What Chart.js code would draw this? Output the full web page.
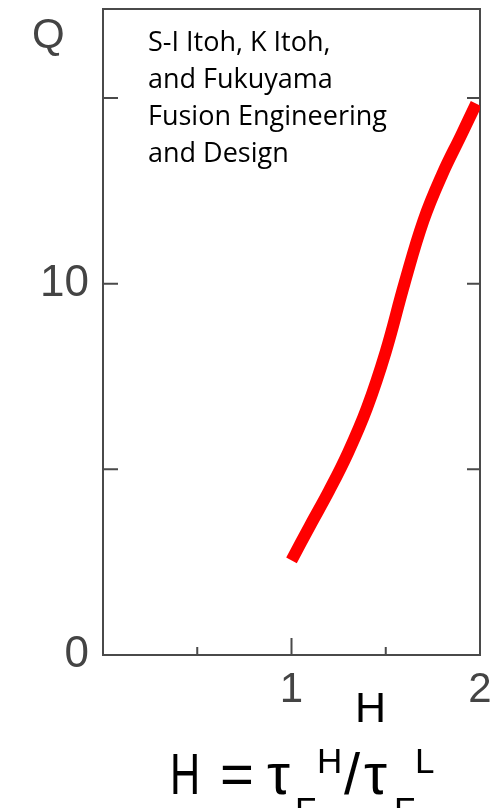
<!DOCTYPE html>
<html><head><meta charset="utf-8">
<script src="https://cdn.jsdelivr.net/npm/chart.js@4.4.0/dist/chart.umd.min.js"></script>
<style>
html,body{margin:0;padding:0;background:#fff;width:499px;height:808px;overflow:hidden;}
#wrap{position:relative;width:499px;height:808px;overflow:hidden;}
canvas{position:absolute;left:0;top:0;}
.ov{position:absolute;white-space:nowrap;line-height:1;}
.f{position:absolute;white-space:nowrap;line-height:1;font-family:'Liberation Sans';color:#000;}
.big{font-size:58px;top:745px;}
.sm{font-size:35px;}
</style></head><body>
<div id="wrap">
<canvas id="c" width="499" height="808"></canvas>
<div class="ov" id="qlab" style="left:32px;top:13px;font-family:'Liberation Sans';font-size:42px;color:#444;">Q</div>
<div class="ov" id="note" style="left:148px;top:22px;font-family:'Open Sans';font-size:27px;line-height:37px;color:#000;">S-I Itoh, K Itoh,<br>and Fukuyama<br>Fusion Engineering<br>and Design</div>
<div class="ov" id="hlab" style="left:355px;top:686px;font-family:'Liberation Sans';font-size:43px;color:#000;">H</div>
<div id="formula">
<span class="f big" style="left:170px;transform:scaleX(0.72);transform-origin:0 0;">H</span>
<span class="f big" style="left:220px;">=</span>
<span class="f big" style="left:267px;">τ</span>
<span class="f sm" style="left:295px;top:792px;">F</span>
<span class="f sm" style="left:317px;top:743px;">H</span>
<span class="f big" style="left:344px;">/</span>
<span class="f big" style="left:364px;">τ</span>
<span class="f sm" style="left:394px;top:792px;">F</span>
<span class="f sm" style="left:415px;top:743px;">L</span>
</div>
</div>
<script>
// Data
const hValues = [1.0, 1.1, 1.2, 1.3, 1.4, 1.5, 1.6, 1.7, 1.8, 1.9, 1.98];
const qValues = [2.55, 3.5, 4.43, 5.45, 6.65, 8.17, 10.02, 11.7, 12.95, 14.0, 14.85];
// Tick labels shown
const xTickLabels = ['1', '2'];
const yTickLabels = ['0', '10'];
// Tick marks
const yTickMarks = [5, 10, 15];
const xMajorMarks = [1];
const xMinorMarks = [0.5, 1.5];

const axisColor = '#4a4a4a';

const framePlugin = {
  id: 'frame',
  beforeDatasetsDraw(chart) {
    const {ctx, chartArea: a, scales: {x, y}} = chart;
    ctx.save();
    ctx.strokeStyle = axisColor;
    ctx.lineWidth = 2;
    ctx.strokeRect(a.left, a.top, a.right - a.left, a.bottom - a.top);
    ctx.beginPath();
    yTickMarks.forEach(v => {
      const py = y.getPixelForValue(v);
      ctx.moveTo(a.left, py); ctx.lineTo(a.left + 15, py);
      ctx.moveTo(a.right, py); ctx.lineTo(a.right - 13, py);
    });
    xMajorMarks.forEach(v => {
      const px = x.getPixelForValue(v);
      ctx.moveTo(px, a.bottom); ctx.lineTo(px, a.bottom - 17);
    });
    xMinorMarks.forEach(v => {
      const px = x.getPixelForValue(v);
      ctx.moveTo(px, a.bottom); ctx.lineTo(px, a.bottom - 8);
    });
    ctx.stroke();
    ctx.restore();
  }
};

new Chart(document.getElementById('c'), {
  type: 'line',
  data: {
    datasets: [{
      data: hValues.map((h, i) => ({x: h, y: qValues[i]})),
      borderColor: '#ff0000',
      borderWidth: 12,
      pointRadius: 0,
      tension: 0.4,
      fill: false
    }]
  },
  options: {
    responsive: false,
    animation: false,
    layout: {padding: {left: 0, top: 9, right: 19, bottom: 0}},
    plugins: {legend: {display: false}, tooltip: {enabled: false}},
    scales: {
      x: {
        type: 'linear', min: 0, max: 2,
        grid: {display: false, drawTicks: false},
        border: {display: false},
        ticks: {
          stepSize: 0.5, autoSkip: false, maxRotation: 0, includeBounds: false,
          padding: 10,
          font: {family: 'Liberation Sans', size: 42},
          color: '#444',
          callback: v => xTickLabels.includes(String(v)) ? String(v) : ''
        },
        afterFit: s => { s.height = 153; s.paddingLeft = 0; s.paddingRight = 0; }
      },
      y: {
        type: 'linear', min: 0, max: 17.4,
        grid: {display: false, drawTicks: false},
        border: {display: false},
        ticks: {
          stepSize: 5, autoSkip: false, includeBounds: false,
          padding: 14,
          font: {family: 'Liberation Sans', size: 44},
          color: '#444',
          callback: v => yTickLabels.includes(String(v)) ? String(v) : ''
        },
        afterFit: s => { s.width = 103; s.paddingTop = 0; s.paddingBottom = 0; }
      }
    }
  },
  plugins: [framePlugin]
});
</script>
</body></html>
